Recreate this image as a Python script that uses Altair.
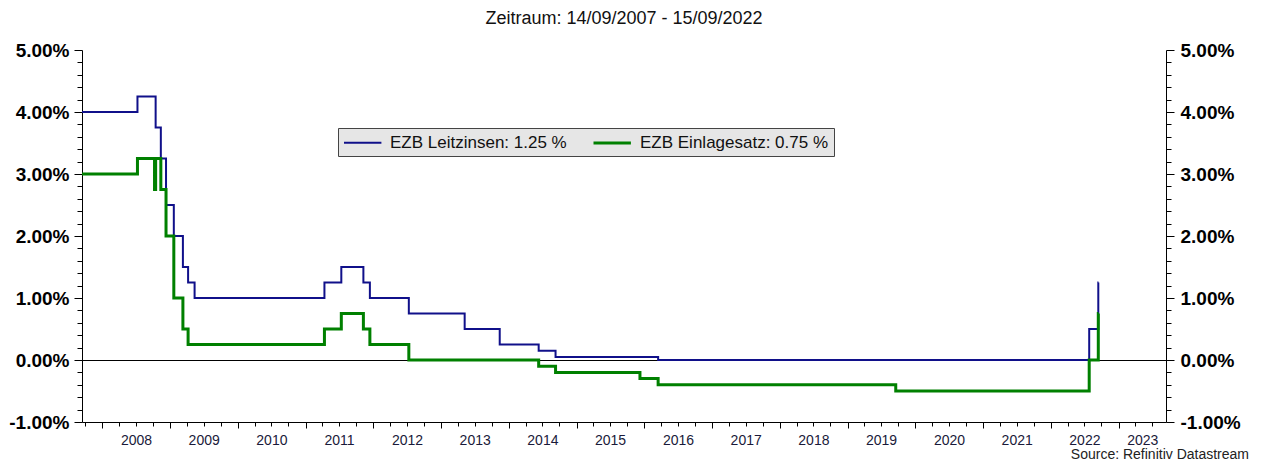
import altair as alt
import pandas as pd

# ---- data ----
mro_dates = ["2007-09-14", "2008-07-09", "2008-10-15", "2008-11-12", "2008-12-10",
             "2009-01-21", "2009-03-11", "2009-04-08", "2009-05-13", "2011-04-13",
             "2011-07-13", "2011-11-09", "2011-12-14", "2012-07-11", "2013-05-08",
             "2013-11-13", "2014-06-11", "2014-09-10", "2016-03-16", "2022-07-27",
             "2022-09-14", "2022-09-15"]
mro_rates = [4.00, 4.25, 3.75, 3.25, 2.50, 2.00, 1.50, 1.25, 1.00, 1.25, 1.50, 1.25,
             1.00, 0.75, 0.50, 0.25, 0.15, 0.05, 0.00, 0.50, 1.25, 1.25]

dfr_dates = ["2007-09-14", "2008-07-09", "2008-10-09", "2008-10-15", "2008-11-12",
             "2008-12-10", "2009-01-21", "2009-03-11", "2009-04-08", "2011-04-13",
             "2011-07-13", "2011-11-09", "2011-12-14", "2012-07-11", "2014-06-11",
             "2014-09-10", "2015-12-09", "2016-03-16", "2019-09-18", "2022-07-27",
             "2022-09-14", "2022-09-15"]
dfr_rates = [3.00, 3.25, 2.75, 3.25, 2.75, 2.00, 1.00, 0.50, 0.25, 0.50, 0.75, 0.50,
             0.25, 0.00, -0.10, -0.20, -0.30, -0.40, -0.50, 0.00, 0.75, 0.75]

series_names = ["EZB Leitzinsen: 1.25 %", "EZB Einlagesatz: 0.75 %"]
series_colors = ["#10108a", "#008000"]
series_widths = [2, 3]

title_text = "Zeitraum: 14/09/2007 - 15/09/2022"
source_text = ["Source: Refinitiv Datastream"]

y_ticks = [round(-1 + 0.2 * i, 1) for i in range(31)]
x_ticks = [alt.DateTime(year=yr, month=m, date=1, utc=True)
           for yr in range(2007, 2024) for m in (1, 4, 7, 10)
           if (2007, 10) <= (yr, m) <= (2023, 7)]

FONT = "Liberation Sans"

rows = []
for d, v in zip(mro_dates, mro_rates):
    rows.append({"date": d, "rate": v, "series": series_names[0]})
for d, v in zip(dfr_dates, dfr_rates):
    rows.append({"date": d, "rate": v, "series": series_names[1]})
df = pd.DataFrame(rows)

y_scale = alt.Scale(domain=[-1, 5], nice=False, zero=False)
x_scale = alt.Scale(type="utc",
                    domain=[alt.DateTime(year=2007, month=9, date=14, utc=True),
                            alt.DateTime(year=2023, month=9, date=14, utc=True)])

is_major_y = "abs(datum.value - round(datum.value)) < 0.01"
y_label_expr = (f"{is_major_y} ? (datum.value < 0 ? '-' : '') + "
                "format(abs(datum.value), '.2f') + '%' : ''")


def y_axis(orient, pad):
    return alt.Axis(
        orient=orient, values=y_ticks, title=None, grid=False,
        domainColor="black", tickColor="black",
        tickSize={"condition": {"test": is_major_y, "value": 8}, "value": 5},
        labelExpr=y_label_expr, labelFont=FONT, labelFontSize=19,
        labelFontWeight="bold", labelColor="black", labelPadding=pad,
        labelOverlap=False,
    )


x_axis = alt.Axis(
    values=x_ticks, title=None, grid=False, domainColor="black", tickColor="black",
    tickSize={"condition": {"test": "utcmonth(datum.value) == 0", "value": 6}, "value": 4},
    labelExpr=("(utcmonth(datum.value) == 6 && utcyear(datum.value) < 2023) || "
               "(utcmonth(datum.value) == 3 && utcyear(datum.value) == 2023) "
               "? '' + utcyear(datum.value) : ''"),
    labelOffset={"condition": {"test": "utcyear(datum.value) == 2023", "value": 7}, "value": 0},
    labelFont=FONT, labelFontSize=14, labelColor="#1a1a3a", labelPadding=7,
    labelOverlap=False, labelFlush=False,
)

zero_rule = alt.Chart(pd.DataFrame({"z": [0]})).mark_rule(
    color="black", strokeWidth=1, yOffset=0.5
).encode(
    y=alt.Y("z:Q", scale=y_scale, axis=y_axis("right", 6)),
)

lines = alt.Chart(df).mark_line(interpolate="step-after").encode(
    x=alt.X("date:T", scale=x_scale, axis=x_axis),
    y=alt.Y("rate:Q", scale=y_scale, axis=y_axis("left", 5)),
    color=alt.Color(
        "series:N",
        scale=alt.Scale(domain=series_names, range=series_colors),
        legend=alt.Legend(
            orient="none", legendX=256, legendY=78, direction="horizontal", title=None,
            fillColor="#e6e6e6", strokeColor="#444444", padding=5,
            symbolType="M-1,0H3.4", symbolSize=289, symbolStrokeWidth=2.5,
            labelFont=FONT, labelFontSize=17, labelColor="#111111", labelLimit=400,
            labelOffset=28, columnPadding=20,
        ),
    ),
    strokeWidth=alt.StrokeWidth(
        "series:N",
        scale=alt.Scale(domain=series_names, range=series_widths),
        legend=None,
    ),
    order=alt.Order("date:T"),
)

source = alt.Chart(pd.DataFrame({"t": source_text})).mark_text(
    align="right", baseline="alphabetic", font=FONT, fontSize=14, color="#222222",
).encode(text="t:N", x=alt.value(1167), y=alt.value(409))

chart = alt.layer(zero_rule, lines, source).resolve_axis(y="independent").properties(
    width=1084, height=372,
    title=alt.TitleParams(text=title_text, anchor="middle", frame="group", font=FONT,
                          fontSize=18, fontWeight="normal", color="#111111", offset=13),
    padding={"left": 74, "top": 42, "right": 86, "bottom": 42},
    autosize=alt.AutoSizeParams(type="none"),
    background="white",
).configure_view(stroke=None)

chart.save("out.html", embed_options={"renderer": "svg", "actions": False})
